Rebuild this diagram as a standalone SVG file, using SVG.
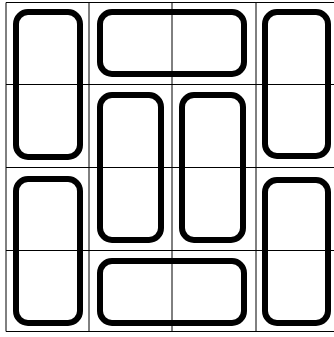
<svg xmlns="http://www.w3.org/2000/svg" width="334" height="337" viewBox="0 0 334 337">
<style>
.bg{fill:#ffffff}
.h{stroke:#000000;stroke-width:1;fill:none}
.v{stroke:#000000;stroke-width:1;fill:none}
.tile{fill:none;stroke:#000000;stroke-width:6}
</style>
<rect class="bg" x="0" y="0" width="334" height="337"/>
<g id="grid">
<line class="h" x1="6" y1="2.5" x2="340" y2="2.5"/>
<line class="h" x1="6" y1="84.5" x2="340" y2="84.5"/>
<line class="h" x1="6" y1="167.5" x2="340" y2="167.5"/>
<line class="h" x1="6" y1="250.5" x2="340" y2="250.5"/>
<line class="h" x1="6" y1="331.5" x2="340" y2="331.5"/>
<line class="v" x1="6" y1="2.5" x2="6" y2="331.5"/>
<line class="v" x1="89" y1="2.5" x2="89" y2="331.5"/>
<line class="v" x1="172" y1="2.5" x2="172" y2="331.5"/>
<line class="v" x1="256" y1="2.5" x2="256" y2="331.5"/>
</g>
<g id="tile1"><rect class="tile" x="16" y="12" width="64" height="145" rx="12"/></g>
<g id="tile2"><rect class="tile" x="100" y="12" width="144" height="62" rx="12"/></g>
<g id="tile3"><rect class="tile" x="265" y="12" width="63" height="144" rx="12"/></g>
<g id="tile4"><rect class="tile" x="100" y="95" width="61" height="145" rx="12"/></g>
<g id="tile5"><rect class="tile" x="182" y="95" width="61" height="145" rx="12"/></g>
<g id="tile6"><rect class="tile" x="16" y="179" width="64" height="144" rx="12"/></g>
<g id="tile7"><rect class="tile" x="100" y="261" width="144" height="62" rx="12"/></g>
<g id="tile8"><rect class="tile" x="265" y="180" width="63" height="143" rx="12"/></g>
</svg>
